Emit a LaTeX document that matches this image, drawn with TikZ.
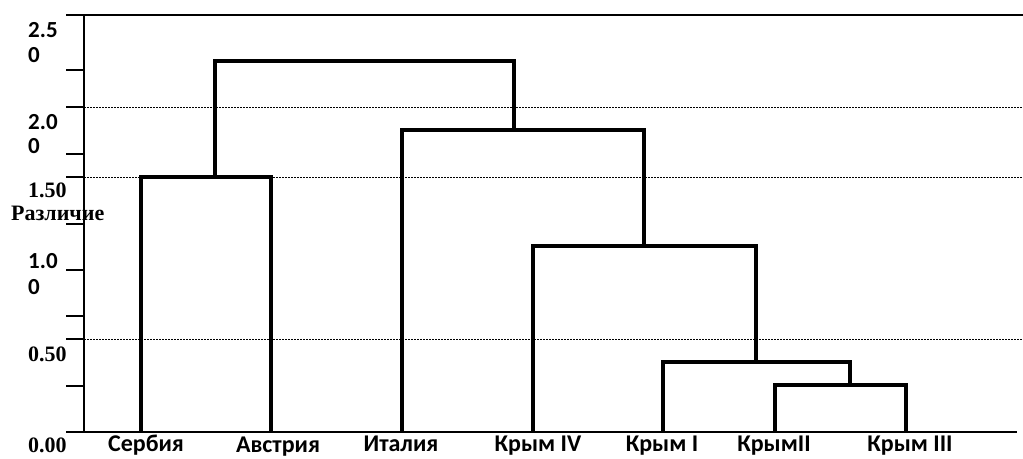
\documentclass[tikz,border=0pt]{standalone}
\usepackage{fontspec}
\setmainfont{Carlito}
\newfontfamily\serifb{Liberation Serif}
\begin{document}
\begin{tikzpicture}[x=1pt,y=-1pt,
  dend/.style={line width=3.2pt, line join=miter},
  axisline/.style={line width=1.6pt},
  gridline/.style={line width=1pt, dash pattern=on 1.5pt off 1.5pt},
  leaflabel/.style={font=\bfseries\fontsize{24}{25}\selectfont, inner sep=0pt, anchor=base},
  ylab/.style={font=\bfseries\fontsize{23}{24}\selectfont, inner sep=0pt, anchor=base west},
  ylabs/.style={font=\serifb\bfseries\fontsize{22}{23}\selectfont, inner sep=0pt, anchor=base west}]
\useasboundingbox (0,0) rectangle (1023,458);
% axes
\coordinate (ytop) at (84,15);
\coordinate (ybot) at (84,432);
\coordinate (topL) at (66,15);
\coordinate (topR) at (1023,15);
\coordinate (botL) at (66,432);
\coordinate (botR) at (1017,432);
\draw[axisline] (topL) -- (topR);
\draw[axisline] (ytop) -- (ybot);
\draw[axisline] (botL) -- (botR);
\foreach \t in {70,107,154,177,224,270,316,339,386}
  \draw[axisline] (66,\t) -- (84,\t);
% dotted grid lines
\foreach \g in {107,177,339}
  \draw[gridline] (84,\g) -- (1023,\g);
% y labels
\node[ylab] (l25a) at (28,37) {2.5};
\node[ylab] (l25b) at (28,62) {0};
\node[ylab] (l20a) at (28,129) {2.0};
\node[ylab] (l20b) at (28,153) {0};
\node[ylabs] (l15) at (28,197) {1.50};
\node[ylabs] (lname) at (11,220) {Различие};
\node[ylab] (l10a) at (28,268) {1.0};
\node[ylab] (l10b) at (28,294) {0};
\node[ylabs] (l05) at (28,361) {0.50};
\node[ylabs] (l00) at (28,452) {0.00};
% leaves
\coordinate (sb) at (141,432);
\coordinate (av) at (271,432);
\coordinate (it) at (402,432);
\coordinate (k4) at (533,432);
\coordinate (k1) at (663,432);
\coordinate (k2) at (775,432);
\coordinate (k3) at (906,432);
\node[leaflabel] (tsb) at (146,451) {Сербия};
\node[leaflabel] (tav) at (278,452.5) {Австрия};
\node[leaflabel] (tit) at (401,451) {Италия};
\node[leaflabel] (tk4) at (538,451) {Крым IV};
\node[leaflabel] (tk1) at (662,451) {Крым I};
\node[leaflabel] (tk2) at (774,451) {КрымII};
\node[leaflabel] (tk3) at (910,451) {Крым III};
% junctions
\coordinate (jSA) at (215,177);
\coordinate (j23) at (850,385);
\coordinate (j123) at (756,362);
\coordinate (j4) at (644,246);
\coordinate (jI) at (514,130);
\coordinate (jTop) at (364,61);
% dendrogram
\draw[dend] (k2) |- (j23) -| (k3);
\draw[dend] (k1) |- (j123) -| (j23);
\draw[dend] (k4) |- (j4) -| (j123);
\draw[dend] (it) |- (jI) -| (j4);
\draw[dend] (sb) |- (jSA) -| (av);
\draw[dend] (jSA) |- (jTop) -| (jI);
\end{tikzpicture}
\end{document}
